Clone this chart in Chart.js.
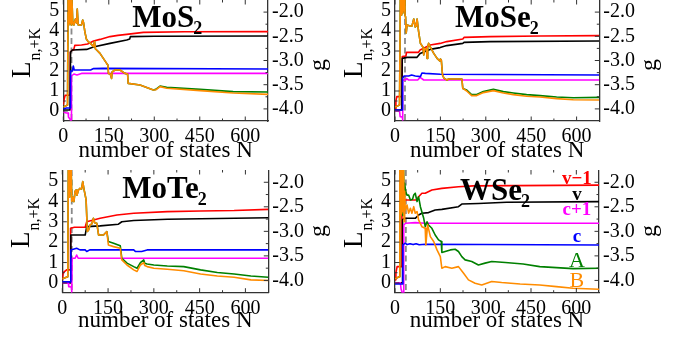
<!DOCTYPE html>
<html>
<head>
<meta charset="utf-8">
<script src="https://cdn.jsdelivr.net/npm/chart.js@4.4.1/dist/chart.umd.min.js"></script>
<style>
  html, body { margin: 0; padding: 0; background: #fff; }
  #wrap { position: relative; width: 685px; height: 341px; overflow: hidden; }
  canvas { position: absolute; }
</style>
</head>
<body>
<div id="wrap">
  <canvas id="mos2" width="335" height="170" style="left:0px;top:0px"></canvas>
  <canvas id="mose2" width="350" height="170" style="left:335px;top:0px"></canvas>
  <canvas id="mote2" width="335" height="171" style="left:0px;top:170px"></canvas>
  <canvas id="wse2" width="350" height="171" style="left:335px;top:170px"></canvas>
</div>
<script>
// ticks
const nTicks = [0, 150, 300, 450, 600];
const nMinor = [75, 225, 375, 525];
const lTicks = [0, 1, 2, 3, 4, 5];
const lMinor = [0.5, 1.5, 2.5, 3.5, 4.5];
const gTicks = [-4.0, -3.5, -3.0, -2.5, -2.0];
const gMinor = [-3.75, -3.25, -2.75, -2.25];

// [N, L]
// MoS2
const MoS2_v1 = [[0,0.3],[3,0.6],[6,0.78],[22,0.8],[23,2.95],[30,3.05],[34,3.05],[38,3.28],[60,3.3],[80,3.35],[100,3.5],[121,3.58],[154,3.72],[180,3.78],[209,3.83],[264,3.93],[400,3.96],[675,3.97]];
const MoS2_v  = [[0,0.05],[22,0.05],[24,2.95],[30,3.05],[77,3.08],[99,3.2],[154,3.38],[209,3.55],[219,3.6],[221,3.72],[300,3.74],[675,3.75]];
const MoS2_c1 = [[0,-0.05],[10,-0.1],[16,-0.1],[17,-0.3],[24,-0.45],[26,-0.45],[27,1.75],[35,1.85],[45,1.8],[60,1.88],[675,1.88]];
const MoS2_c  = [[0,0.1],[10,0.15],[23,0.15],[24,2.0],[30,2.0],[33,2.25],[36,2.05],[90,2.05],[100,2.12],[130,2.13],[675,2.1]];
const MoS2_A  = [[0,0.2],[14,0.3],[16,6.5],[18,4.3],[20,7],[22,4.4],[24,6.5],[26,4.3],[28,5.8],[31,4.5],[35,4.3],[40,4.6],[44,4.4],[46,5.1],[49,4.3],[60,4.3],[64,4.55],[67,4.4],[71,3.97],[76,3.6],[82,3.47],[92,3.35],[99,3.22],[103,3.47],[106,3.1],[110,3.05],[121,2.88],[132,2.63],[143,2.38],[147,2.3],[149,1.88],[155,1.85],[159,1.63],[161,1.95],[170,2.05],[187,2.05],[203,1.88],[212,1.85],[214,1.38],[253,1.3],[275,1.18],[297,1.05],[305,1.08],[319,1.25],[341,1.18],[451,1.08],[560,0.97],[675,0.95]];
const MoS2_B  = [[0,0.2],[14,0.3],[16,6.5],[18,4.3],[20,7],[22,4.4],[24,6.5],[26,4.3],[28,5.8],[31,4.5],[35,4.3],[40,4.6],[44,4.4],[46,5.1],[49,4.3],[60,4.3],[64,4.55],[67,4.4],[71,3.97],[76,3.6],[82,3.47],[92,3.35],[99,3.22],[103,3.47],[106,3.1],[110,3.05],[121,2.88],[132,2.63],[143,2.38],[147,2.3],[149,1.88],[155,1.85],[159,1.63],[161,1.95],[170,2.05],[187,2.05],[203,1.88],[212,1.85],[214,1.38],[253,1.3],[275,1.18],[297,1.05],[305,1.06],[319,1.22],[341,1.14],[451,1.02],[560,0.9],[675,0.83]];

// MoSe2
const MoSe2_v1 = [[0,0.1],[3,0.5],[6,0.72],[22,0.72],[24,2.72],[36,2.75],[38,2.93],[77,2.93],[83,3.05],[116,3.3],[149,3.38],[171,3.47],[224,3.6],[228,3.68],[314,3.72],[479,3.75],[675,3.77]];
const MoSe2_v  = [[0,0.05],[22,0.05],[24,2.63],[40,2.68],[72,2.68],[83,2.88],[99,2.97],[116,3.08],[149,3.17],[171,3.27],[224,3.38],[228,3.43],[314,3.47],[675,3.5]];
const MoSe2_c1 = [[0,0],[15,0],[17,-0.28],[24,-0.3],[25,-0.45],[26,1.55],[35,1.55],[38,1.63],[45,1.55],[75,1.55],[83,1.68],[95,1.55],[675,1.55]];
const MoSe2_c  = [[0,0.05],[24,0.05],[25,1.63],[30,1.75],[45,1.75],[55,1.8],[67,1.75],[84,1.72],[89,1.9],[100,1.88],[150,1.84],[675,1.8]];
const MoSe2_A  = [[0,0.2],[15,0.3],[18,6.5],[20,4.8],[22,7],[24,4.9],[26,6.5],[28,5.0],[30,6.2],[33,4.8],[35,4.7],[37,3.9],[40,4.3],[50,4.25],[56,4.25],[62,4.6],[67,4.2],[70,4.25],[73,4.6],[78,3.97],[84,3.38],[92,3.2],[95,2.8],[98,3.13],[104,3.1],[106,2.63],[108,3.2],[111,3.38],[116,3.22],[128,2.88],[139,2.63],[148,2.5],[150,2.6],[153,2.55],[157,1.8],[162,1.63],[172,1.55],[177,1.6],[221,1.6],[224,1.13],[237,1.05],[253,0.82],[270,0.82],[292,0.97],[325,1.08],[358,0.97],[391,0.9],[435,0.82],[479,0.77],[534,0.7],[589,0.66],[675,0.68]];
const MoSe2_B  = [[0,0.2],[15,0.3],[18,6.5],[20,4.8],[22,7],[24,4.9],[26,6.5],[28,5.0],[30,6.2],[33,4.8],[35,4.7],[37,3.9],[40,4.3],[50,4.25],[56,4.25],[62,4.6],[67,4.2],[70,4.25],[73,4.6],[78,3.97],[84,3.38],[92,3.2],[95,2.8],[98,3.13],[104,3.1],[106,2.63],[108,3.2],[111,3.38],[116,3.22],[128,2.88],[139,2.63],[148,2.5],[150,2.6],[153,2.55],[157,1.8],[162,1.63],[172,1.55],[177,1.6],[221,1.6],[224,1.13],[237,1.0],[253,0.77],[270,0.77],[292,0.92],[325,1.02],[358,0.9],[391,0.82],[435,0.74],[479,0.7],[534,0.62],[589,0.56],[675,0.55]];

// MoTe2
const MoTe2_v1 = [[0,0.15],[3,0.5],[14,0.64],[26,0.64],[27,2.68],[40,2.73],[75,2.73],[80,3.0],[124,3.17],[179,3.33],[234,3.42],[344,3.5],[453,3.53],[563,3.55],[675,3.61]];
const MoTe2_v  = [[0,0],[27,0],[28,2.35],[75,2.35],[80,2.76],[124,2.8],[184,2.88],[195,3.0],[234,3.06],[344,3.12],[453,3.15],[675,3.2]];
const MoTe2_c1 = [[0,0],[20,0],[21,-0.18],[30,-0.2],[31,-0.45],[32,1.21],[42,1.21],[47,1.37],[52,1.21],[675,1.21]];
const MoTe2_c  = [[0,0.05],[27,0.05],[28,1.62],[47,1.7],[58,1.62],[75,1.62],[80,1.54],[90,1.62],[234,1.62],[240,1.54],[260,1.54],[278,1.62],[675,1.62]];
const MoTe2_A  = [[0,0.2],[18,0.3],[20,6.5],[22,4.2],[24,7],[26,4.5],[28,6.5],[31,4.0],[35,4.2],[38,3.99],[42,4.5],[45,4.56],[48,4.3],[53,4.56],[58,4.64],[63,4.6],[67,4.97],[71,4.6],[75,4.31],[78,4.07],[82,2.52],[86,2.6],[91,2.84],[97,2.9],[102,3.17],[106,2.95],[113,2.93],[119,2.35],[135,2.35],[146,2.52],[151,2.03],[168,1.95],[190,1.82],[195,1.21],[212,0.97],[234,0.8],[245,0.72],[256,1.0],[267,1.13],[270,0.97],[278,0.93],[300,0.88],[344,0.83],[398,0.8],[453,0.64],[508,0.51],[563,0.44],[618,0.34],[675,0.28]];
const MoTe2_B  = [[0,0.2],[18,0.3],[20,6.5],[22,4.2],[24,7],[26,4.5],[28,6.5],[31,4.0],[35,4.2],[38,3.99],[42,4.5],[45,4.56],[48,4.3],[53,4.56],[58,4.64],[63,4.6],[67,4.97],[71,4.6],[75,4.31],[78,4.07],[82,2.52],[86,2.6],[91,2.84],[97,2.9],[102,3.17],[106,2.95],[113,2.93],[119,2.35],[135,2.35],[146,2.52],[151,1.86],[168,1.78],[190,1.7],[195,1.13],[212,0.88],[234,0.64],[245,0.56],[256,0.88],[267,1.0],[270,0.85],[278,0.8],[300,0.72],[344,0.67],[398,0.6],[453,0.44],[508,0.34],[563,0.28],[618,0.15],[675,0.12]];

// WSe2
const WSe2_v1 = [[0,0.15],[3,0.5],[7,0.8],[22,0.8],[23,4.07],[73,4.07],[78,4.23],[89,4.4],[100,4.4],[122,4.56],[155,4.64],[210,4.72],[259,4.76],[675,4.8]];
const WSe2_v  = [[0,0],[24,0],[25,3.1],[30,3.17],[67,3.17],[78,3.33],[89,3.42],[111,3.45],[133,3.58],[155,3.61],[210,3.74],[221,3.87],[276,3.9],[369,3.96],[675,3.99]];
const WSe2_c1 = [[0,0],[18,0],[20,-0.3],[27,-0.6],[29,2.84],[35,2.93],[67,2.96],[100,2.93],[675,2.93]];
const WSe2_c  = [[0,-0.05],[25,-0.05],[26,1.87],[34,1.95],[40,1.88],[50,1.92],[60,1.88],[70,1.92],[80,1.87],[100,1.9],[675,1.86]];
const WSe2_A  = [[0,0.2],[14,0.3],[16,6.5],[18,3.5],[20,7],[22,3.8],[24,7.5],[26,3.3],[28,6],[30,4.2],[32,4.89],[35,4.5],[40,4.3],[45,4.31],[51,4.07],[58,4.1],[62,4.31],[67,4.4],[73,3.99],[78,4.23],[84,3.74],[95,3.17],[100,2.76],[106,3.0],[111,2.84],[122,2.68],[133,2.35],[144,2.11],[153,2.03],[155,1.49],[166,1.54],[183,1.62],[199,1.65],[210,1.54],[221,1.29],[232,1.13],[254,1.05],[276,0.88],[298,0.97],[320,1.05],[365,1.0],[424,0.93],[479,0.8],[534,0.75],[589,0.7],[675,0.72]];
const WSe2_B  = [[0,0.2],[14,0.3],[16,7],[18,3.3],[20,7.5],[22,3.4],[24,7],[26,3.5],[28,6.5],[30,3.0],[32,4.5],[34,3.58],[40,3.82],[45,3.42],[51,3.66],[56,3.42],[62,3.74],[67,3.42],[73,3.5],[78,3.09],[89,2.76],[100,2.68],[102,1.86],[104,2.2],[108,2.85],[117,2.27],[128,2.03],[139,1.62],[150,1.29],[155,0.72],[166,0.8],[188,0.72],[210,0.8],[227,0.47],[243,0.15],[265,-0.02],[287,-0.1],[320,0.07],[353,0.02],[414,-0.05],[479,-0.1],[534,-0.18],[589,-0.26],[675,-0.31]];

// line labels in the WSe2 panel
const WSe2_labelText = ['v\u22121', 'v', 'c+1', 'c', 'A', 'B'];
const WSe2_labelL = [4.85, 4.07, 3.33, 2.01, 0.78, -0.2];
const WSe2_labelN = 602;

const SERIF = '"Liberation Serif", "Times New Roman", serif';
const AXIS = '#333';
// v-1, v, c+1, c, A, B
const COLORS = ['#ff0000', '#000000', '#ff00ff', '#0000ff', '#008000', '#ff8c00'];

function drawTicks(ctx, scale, vals, len, side, a) {
  vals.forEach(v => {
    const p = scale.getPixelForValue(v);
    ctx.beginPath();
    if (side === 'bottom') { ctx.moveTo(p, a.bottom); ctx.lineTo(p, a.bottom - len); }
    else if (side === 'top') { ctx.moveTo(p, a.top); ctx.lineTo(p, a.top + len); }
    else if (side === 'left') { ctx.moveTo(a.left, p); ctx.lineTo(a.left + len, p); }
    else { ctx.moveTo(a.right, p); ctx.lineTo(a.right - len, p); }
    ctx.stroke();
  });
}

function makePanel(p) {
  const canvas = document.getElementById(p.id);
  const W = canvas.width, H = canvas.height;

  // orange drawn last (index 0 is on top)
  const order = [5, 4, 3, 2, 1, 0];
  const datasets = order.map(i => ({
    data: p.series[i],
    borderColor: COLORS[i],
    borderWidth: 1.6,
    borderJoinStyle: 'round',
    pointRadius: 0,
    tension: 0,
    fill: false,
    yAxisID: 'y'
  }));

  const tickFont = { family: SERIF, size: 20 };
  const noGrid = { display: false, drawTicks: false, tickLength: 0 };

  const decor = {
    id: 'decor',
    beforeDatasetsDraw(chart) {
      const ctx = chart.ctx, a = chart.chartArea;
      const x = chart.scales.x.getPixelForValue(p.dashN);
      ctx.save();
      ctx.strokeStyle = '#8a8a8a';
      ctx.lineWidth = 1.8;
      ctx.setLineDash([6, 3.5]);
      ctx.beginPath();
      ctx.moveTo(x, a.top);
      ctx.lineTo(x, a.bottom);
      ctx.stroke();
      ctx.restore();
    },
    afterDraw(chart) {
      const ctx = chart.ctx, a = chart.chartArea, s = chart.scales;
      ctx.save();
      ctx.strokeStyle = AXIS;
      ctx.lineWidth = 1;
      drawTicks(ctx, s.x, nTicks, 4.5, 'bottom', a);
      drawTicks(ctx, s.x, nMinor, 2.5, 'bottom', a);
      drawTicks(ctx, s.x, nTicks, 4.5, 'top', a);
      drawTicks(ctx, s.x, nMinor, 2.5, 'top', a);
      drawTicks(ctx, s.y, lTicks, 4.5, 'left', a);
      drawTicks(ctx, s.y, lMinor, 2.5, 'left', a);
      drawTicks(ctx, s.y2, gTicks, 4.5, 'right', a);
      drawTicks(ctx, s.y2, gMinor, 2.5, 'right', a);

      ctx.fillStyle = '#000';
      ctx.textBaseline = 'alphabetic';
      ctx.textAlign = 'left';

      // panel name with subscript
      ctx.font = 'bold 31px ' + SERIF;
      const tx = a.left + p.titleDx, ty = a.top + p.titleDy;
      ctx.fillText(p.name, tx, ty);
      const tw = ctx.measureText(p.name).width;
      ctx.font = 'bold 18px ' + SERIF;
      ctx.fillText(p.sub, tx + tw - 1, ty + 7);

      // left label L_{n,+K}
      ctx.save();
      ctx.translate(a.left - 33, a.top + 78);
      ctx.rotate(-Math.PI / 2);
      ctx.font = '27px ' + SERIF;
      ctx.fillText('L', 0, 0);
      const lw = ctx.measureText('L').width;
      ctx.font = '16px ' + SERIF;
      ctx.fillText('n,+K', lw + 1, 10);
      ctx.restore();

      // right label g
      ctx.save();
      ctx.translate(a.right + 57, a.top + p.gDy);
      ctx.rotate(-Math.PI / 2);
      ctx.font = '24px ' + SERIF;
      ctx.textAlign = 'center';
      ctx.fillText('g', 0, 0);
      ctx.restore();

      // line labels
      if (p.labels) {
        ctx.textAlign = 'center';
        p.labels.text.forEach((t, i) => {
          ctx.fillStyle = COLORS[i];
          ctx.font = (i < 4 ? 'bold 19px ' : '22px ') + SERIF;
          ctx.fillText(t, s.x.getPixelForValue(p.labels.n), s.y.getPixelForValue(p.labels.l[i]));
        });
      }
      ctx.restore();
    }
  };

  return new Chart(canvas, {
    type: 'line',
    data: { datasets },
    plugins: [decor],
    options: {
      responsive: false,
      animation: false,
      events: [],
      layout: { padding: 0, autoPadding: false },
      plugins: { legend: { display: false }, tooltip: { enabled: false } },
      scales: {
        x: {
          type: 'linear', min: 0, max: 675, bounds: 'data',
          afterBuildTicks: sc => { sc.ticks = nTicks.map(v => ({ value: v })); },
          afterFit: sc => { sc.height = H - p.area.b; sc.paddingLeft = 0; sc.paddingRight = 0; },
          grid: noGrid,
          border: { display: true, color: AXIS, width: 1.3 },
          ticks: { font: tickFont, color: '#000', padding: 4, maxRotation: 0, autoSkip: false, callback: v => String(v) },
          title: { display: true, text: 'number of states N', color: '#000', font: { family: SERIF, size: 23 }, padding: { top: 0, bottom: p.xTitlePad } }
        },
        y: {
          type: 'linear', position: 'left', min: p.lMin, max: p.lMax, bounds: 'data',
          afterBuildTicks: sc => { sc.ticks = lTicks.map(v => ({ value: v })); },
          afterFit: sc => { sc.width = p.area.l; sc.paddingTop = 0; sc.paddingBottom = 0; },
          grid: noGrid,
          border: { display: true, color: AXIS, width: 1.3 },
          ticks: { font: tickFont, color: '#000', padding: 4, autoSkip: false, callback: v => String(v) }
        },
        y2: {
          type: 'linear', position: 'right', min: -4.25, max: -1.75, bounds: 'data',
          afterBuildTicks: sc => { sc.ticks = gTicks.map(v => ({ value: v })); },
          afterFit: sc => { sc.width = W - p.area.r; sc.paddingTop = 0; sc.paddingBottom = 0; },
          grid: noGrid,
          border: { display: true, color: AXIS, width: 1.3 },
          ticks: { font: tickFont, color: '#000', padding: 4, autoSkip: false, callback: v => v.toFixed(1) }
        }
      }
    }
  });
}

const panels = [
  { id: 'mos2', name: 'MoS', sub: '2', series: [MoS2_v1, MoS2_v, MoS2_c1, MoS2_c, MoS2_A, MoS2_B],
    dashN: 27, area: { l: 63.3, r: 268, b: 121 }, lMin: -0.5, lMax: 5.55,
    titleDx: 69, titleDy: 27, gDy: 65, xTitlePad: 5 },
  { id: 'mose2', name: 'MoSe', sub: '2', series: [MoSe2_v1, MoSe2_v, MoSe2_c1, MoSe2_c, MoSe2_A, MoSe2_B],
    dashN: 33, area: { l: 60, r: 264.3, b: 121 }, lMin: -0.5, lMax: 5.55,
    titleDx: 60, titleDy: 27, gDy: 65, xTitlePad: 5 },
  { id: 'mote2', name: 'MoTe', sub: '2', series: [MoTe2_v1, MoTe2_v, MoTe2_c1, MoTe2_c, MoTe2_A, MoTe2_B],
    dashN: 31, area: { l: 62.3, r: 268.3, b: 122.7 }, lMin: -0.48, lMax: 5.54,
    titleDx: 60, titleDy: 28, gDy: 61, xTitlePad: 6 },
  { id: 'wse2', name: 'WSe', sub: '2', series: [WSe2_v1, WSe2_v, WSe2_c1, WSe2_c, WSe2_A, WSe2_B],
    dashN: 36, area: { l: 60, r: 264, b: 122.7 }, lMin: -0.48, lMax: 5.54,
    titleDx: 65, titleDy: 30, gDy: 61, xTitlePad: 6,
    labels: { text: WSe2_labelText, l: WSe2_labelL, n: WSe2_labelN } }
];

panels.forEach(makePanel);
</script>
</body>
</html>
